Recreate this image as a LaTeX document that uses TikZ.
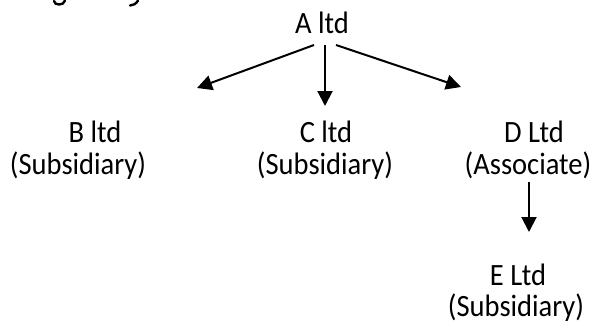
\documentclass[tikz,border=0pt]{standalone}
\usepackage{fontspec}
\setmainfont{Carlito}[FakeStretch=0.92]
\usetikzlibrary{arrows.meta}
\begin{document}
\begin{tikzpicture}[x=1pt,y=1pt,
  entity/.style={anchor=base, inner sep=0pt, font=\fontsize{31}{34}\selectfont},
  link/.style={line width=2pt, -{Triangle[length=15pt,width=15pt]}},
  stroke/.style={line width=2.4pt, line cap=round}]
\useasboundingbox (0,0) rectangle (595,-325);

% descenders of the line of text above the chart
\draw[stroke] (54,-1) .. controls (54,-5.5) and (64,-6) .. (65,-0.5);
\draw[stroke] (138,-0.5) .. controls (136,-4) and (133,-5.5) .. (130,-5.5);

% parent company
\node[entity] (A) at (322,-33) {A ltd};

% first level
\node[entity] (B) at (95,-142) {B ltd};
\node[entity] (Brole) at (78,-174) {(Subsidiary)};
\node[entity] (C) at (326,-142) {C ltd};
\node[entity] (Crole) at (325,-174) {(Subsidiary)};
\node[entity] (D) at (534,-142) {D Ltd};
\node[entity] (Drole) at (528,-174) {(Associate)};

% second level
\node[entity] (E) at (518,-285) {E Ltd};
\node[entity] (Erole) at (516,-316) {(Subsidiary)};

% arrow ends just above each child
\coordinate (tipB) at ([xshift=102pt,yshift=54pt]B.base);
\coordinate (tipC) at ([xshift=-1pt,yshift=36pt]C.base);
\coordinate (tipD) at ([xshift=-73pt,yshift=55pt]D.base);
\coordinate (tipE) at ([xshift=11pt,yshift=53pt]E.base);

\draw[link] ([xshift=-8pt,yshift=-12pt]A.base) -- (tipB);
\draw[link] ([xshift=3pt,yshift=-12pt]A.base) -- (tipC);
\draw[link] ([xshift=14pt,yshift=-12pt]A.base) -- (tipD);
\draw[link] ([xshift=1pt,yshift=-8pt]Drole.base) -- (tipE);
\end{tikzpicture}
\end{document}
